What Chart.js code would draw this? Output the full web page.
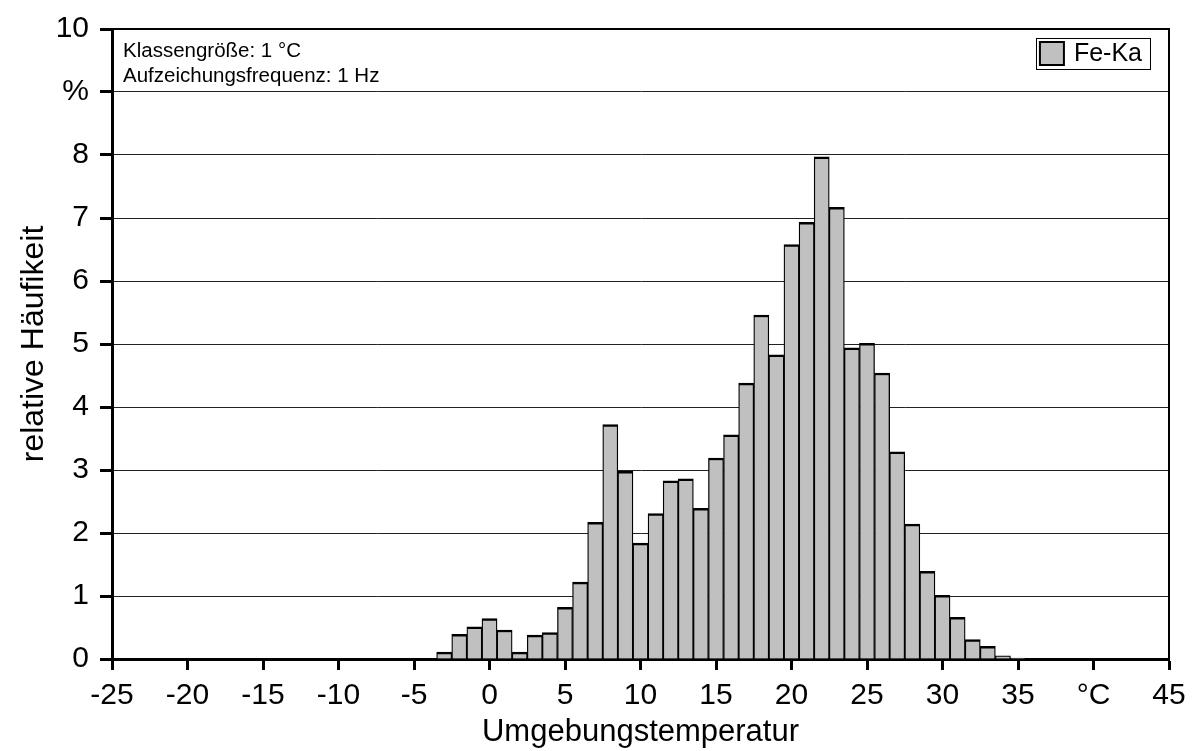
<!DOCTYPE html>
<html>
<head>
<meta charset="utf-8">
<script src="https://cdn.jsdelivr.net/npm/chart.js@4/dist/chart.umd.min.js"></script>
<style>
  html, body { margin: 0; padding: 0; background: #ffffff; }
  #wrap { width: 1197px; height: 751px; }
  canvas { display: block; }
</style>
</head>
<body>
<div id="wrap"><canvas id="chart" width="1197" height="751"></canvas></div>
<script>
// ---- data ----
const temperatures = [-3, -2, -1, 0, 1, 2, 3, 4, 5, 6, 7, 8, 9, 10, 11, 12, 13, 14, 15, 16, 17, 18, 19,
                      20, 21, 22, 23, 24, 25, 26, 27, 28, 29, 30, 31, 32, 33, 34, 35];
const frequencies = [0.11, 0.39, 0.51, 0.64, 0.46, 0.11, 0.38, 0.42, 0.82, 1.22, 2.17, 3.72, 2.98, 1.84,
                     2.31, 2.83, 2.86, 2.39, 3.19, 3.56, 4.38, 5.46, 4.83, 6.58, 6.93, 7.97, 7.17, 4.94,
                     5.01, 4.54, 3.29, 2.14, 1.39, 1.01, 0.66, 0.31, 0.20, 0.05, 0.015];
const seriesLabel = 'Fe-Ka';
const xTickValues = [-25, -20, -15, -10, -5, 0, 5, 10, 15, 20, 25, 30, 35, 40, 45];
const xTickLabels = ['-25', '-20', '-15', '-10', '-5', '0', '5', '10', '15', '20', '25', '30', '35', '°C', '45'];
const yTickValues = [0, 1, 2, 3, 4, 5, 6, 7, 8, 9, 10];
const yTickLabels = ['0', '1', '2', '3', '4', '5', '6', '7', '8', '%', '10'];
const xTitle = 'Umgebungstemperatur';
const yTitle = 'relative Häufikeit';
const noteLines = ['Klassengröße: 1 °C', 'Aufzeichungsfrequenz: 1 Hz'];

const FONT = "'Liberation Sans', Arial, Helvetica, sans-serif";

function labelFor(values, labels, v) {
  const i = values.findIndex(t => Math.abs(t - v) < 1e-9);
  return i >= 0 ? labels[i] : '';
}

const framePlugin = {
  id: 'frameAndNotes',
  afterDraw(chart) {
    const { ctx, chartArea: a } = chart;
    ctx.save();
    // top and right frame of the plot area
    ctx.strokeStyle = '#000';
    ctx.lineWidth = 2;
    ctx.beginPath();
    ctx.moveTo(a.left, a.top);
    ctx.lineTo(a.right, a.top);
    ctx.lineTo(a.right, a.bottom);
    ctx.stroke();

    // notes (top-left)
    ctx.fillStyle = '#000';
    ctx.font = '20.5px ' + FONT;
    ctx.textAlign = 'left';
    ctx.textBaseline = 'alphabetic';
    noteLines.forEach((t, i) => ctx.fillText(t, a.left + 11, a.top + 28 + i * 25));

    // legend (top-right)
    const ds = chart.data.datasets[0];
    ctx.font = '25px ' + FONT;
    const tw = ctx.measureText(ds.label).width;
    const boxRight = a.right - 19;
    const boxTop = a.top + 9;
    const boxH = 31;
    const swW = 24, gap = 10, padL = 4, padR = 8;
    const boxW = padL + swW + gap + tw + padR;
    const boxLeft = boxRight - boxW;
    ctx.fillStyle = '#fff';
    ctx.fillRect(boxLeft, boxTop, boxW, boxH);
    ctx.lineWidth = 1;
    ctx.strokeStyle = '#000';
    ctx.strokeRect(Math.round(boxLeft) + 0.5, boxTop + 0.5, Math.round(boxW), boxH);
    ctx.fillStyle = ds.backgroundColor;
    ctx.fillRect(boxLeft + padL, boxTop + 4, swW, boxH - 8);
    ctx.lineWidth = 2;
    ctx.strokeRect(boxLeft + padL, boxTop + 4, swW, boxH - 8);
    ctx.fillStyle = '#000';
    ctx.textBaseline = 'middle';
    ctx.fillText(ds.label, boxLeft + padL + swW + gap, boxTop + boxH / 2 + 1);
    ctx.restore();
  }
};

new Chart(document.getElementById('chart'), {
  type: 'bar',
  data: {
    datasets: [{
      label: seriesLabel,
      data: temperatures.map((t, i) => ({ x: t, y: frequencies[i] })),
      backgroundColor: '#c0c0c0',
      borderColor: '#000000',
      borderWidth: { top: 2.5, left: 1.3, right: 1.3, bottom: 0 },
      borderSkipped: 'start',
      barPercentage: 1,
      categoryPercentage: 1,
      grouped: false
    }]
  },
  options: {
    responsive: false,
    animation: false,
    devicePixelRatio: 1,
    layout: { padding: { left: 0, right: 28, top: 24, bottom: 0 } },
    plugins: { legend: { display: false }, tooltip: { enabled: false } },
    scales: {
      x: {
        type: 'linear',
        min: -25, max: 45,
        offset: false,
        afterBuildTicks(scale) { scale.ticks = xTickValues.map(v => ({ value: v })); },
        ticks: {
          autoSkip: false, maxRotation: 0, minRotation: 0, padding: 8,
          color: '#000', font: { family: FONT, size: 30 },
          callback: v => labelFor(xTickValues, xTickLabels, v)
        },
        grid: { display: true, drawOnChartArea: false, drawTicks: true, tickLength: 11, tickWidth: 3, tickColor: '#000', offset: false },
        border: { display: true, color: '#000', width: 3 },
        title: { display: true, text: xTitle, color: '#000', font: { family: FONT, size: 31 }, padding: { top: 0, bottom: 0 } },
        afterFit(scale) { scale.height = 92; }
      },
      y: {
        min: 0, max: 10,
        afterBuildTicks(scale) { scale.ticks = yTickValues.map(v => ({ value: v })); },
        ticks: {
          padding: 11, color: '#000', font: { family: FONT, size: 30 },
          callback: v => labelFor(yTickValues, yTickLabels, v)
        },
        grid: { color: '#222222', lineWidth: 1, drawTicks: true, tickLength: 12, tickWidth: 3, tickColor: '#000' },
        border: { display: true, color: '#000', width: 3 },
        title: { display: true, text: yTitle, color: '#000', font: { family: FONT, size: 32 }, padding: { top: 15, bottom: 0 } },
        afterFit(scale) { scale.width = 112; }
      }
    }
  },
  plugins: [framePlugin]
});
</script>
</body>
</html>
